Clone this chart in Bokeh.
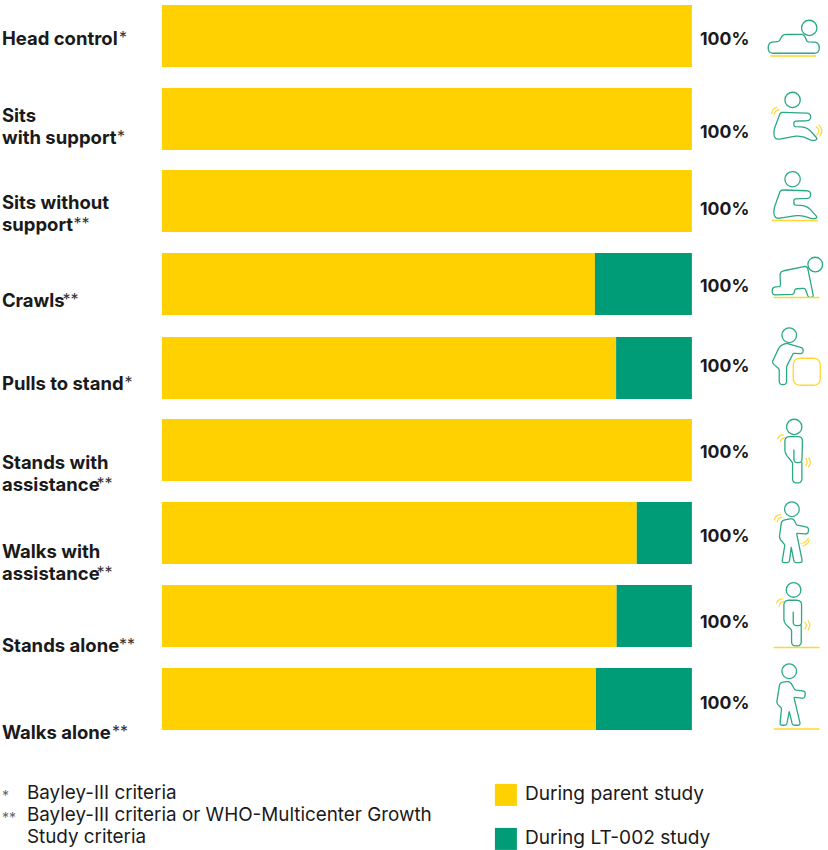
from bokeh.plotting import figure
from bokeh.models import Range1d
from bokeh.core.properties import value
from bokeh.embed import file_html
from bokeh.resources import INLINE
import math

# ---- data ----
milestones = ["Head control", "Sits with support", "Sits without support", "Crawls",
              "Pulls to stand", "Stands with assistance", "Walks with assistance",
              "Stands alone", "Walks alone"]
parent_study = [100, 100, 100, 81.7, 85.7, 100, 89.6, 85.8, 81.9]
lt002_study = [0, 0, 0, 18.3, 14.3, 0, 10.4, 14.2, 18.1]
total_labels = ["100%"] * 9
footnotes = ["Bayley-III criteria", "Bayley-III criteria or WHO-Multicenter Growth", "Study criteria"]
legend_names = ["During parent study", "During LT-002 study"]

# ---- layout (pixels) ----
W, H = 828, 850
X0, PX = 162, 5.30
SHIFT = 0.6
bar_tops = [5, 88, 170, 253, 337, 419, 502, 585, 668]
BAR_H = 62
label_lines = [
    [("Head control", 38, "*", 119)],
    [("Sits", 115, "", 0), ("with support", 137, "*", 117)],
    [("Sits without", 202, "", 0), ("support", 224, "**", 73.5)],
    [("Crawls", 300, "**", 62.5)],
    [("Pulls to stand", 383, "*", 124.5)],
    [("Stands with", 462, "", 0), ("assistance", 484, "**", 96.5)],
    [("Walks with", 551, "", 0), ("assistance", 573, "**", 96.5)],
    [("Stands alone", 645, "**", 119)],
    [("Walks alone", 732, "**", 112)],
]
total_y = [38, 131, 208, 285, 365, 451, 535, 621, 702]
YELLOW, GREEN, INK = "#FFD100", "#009B77", "#1A1A1A"
ICON_G, ICON_Y = "#2BA884", "#FFD633"
FONT = "Inter"

p = figure(width=W, height=H, output_backend="svg", toolbar_location=None,
           x_range=Range1d((-X0 + SHIFT) / PX, (W - X0 + SHIFT) / PX), y_range=Range1d(H + SHIFT, SHIFT),
           min_border=0, outline_line_color=None)
p.styles = {"position": "absolute", "left": "0px", "top": "0px"}
p.axis.visible = False
p.grid.visible = False

tops = bar_tops
bots = [t + BAR_H for t in tops]
p.quad(left=[0] * 9, right=parent_study, top=tops, bottom=bots, fill_color=YELLOW, line_color=None)
p.quad(left=parent_study, right=[a + b for a, b in zip(parent_study, lt002_study)], top=tops, bottom=bots,
       fill_color=GREEN, line_color=None)


def sx(px):
    return (px - X0) / PX


def txt(px, py, s, size, color=INK, style="normal", font=FONT):
    p.text(x=[sx(px)], y=[py], text=[s], text_font=value(font), text_font_size=f"{size}px",
           text_font_style=style, text_color=color, text_baseline="middle", text_align="left")


for lines in label_lines:
    for s, y, star, sxp in lines:
        txt(2, y, s, 18.5, style="bold")
        if star:
            txt(sxp, y - 1, star, 16, color="#333333")
for s, y in zip(total_labels, total_y):
    txt(700, y + 0.8, s, 17.7, style="bold")

txt(2, 795.5, "*", 14, color="#666666")
txt(2, 817.5, "**", 14, color="#666666")
for s, y in zip(footnotes, [793, 815, 837]):
    txt(27, y, s, 18.85)
for s, y, c in zip(legend_names, [793, 837], [YELLOW, GREEN]):
    p.quad(left=[sx(495)], right=[sx(517)], top=[y - 9], bottom=[y + 13], fill_color=c, line_color=None)
    txt(525, y, s, 19.1)


# ---- pictograms, traced in zoomed-crop units (3x) ----
def rounded(pts, closed=True):
    """pts: (x, y, corner radius). Corners are replaced by quadratic curves."""
    n = len(pts)
    out = []
    for i in range(n):
        x, y, r = pts[i]
        if not closed and i in (0, n - 1):
            out.append((x, y))
            continue
        ax, ay, _ = pts[(i - 1) % n]
        bx, by, _ = pts[(i + 1) % n]
        la, lb = math.hypot(ax - x, ay - y), math.hypot(bx - x, by - y)
        ca, cb = min(r, la / 2), min(r, lb / 2)
        s = (x + (ax - x) * ca / la, y + (ay - y) * ca / la)
        e = (x + (bx - x) * cb / lb, y + (by - y) * cb / lb)
        for k in range(9):
            t = k / 8
            out.append(((1 - t) ** 2 * s[0] + 2 * t * (1 - t) * x + t * t * e[0],
                        (1 - t) ** 2 * s[1] + 2 * t * (1 - t) * y + t * t * e[1]))
    if closed:
        out.append(out[0])
    return out


def path(pts, ox, oy, color=ICON_G, closed=True, w=1.3):
    pts = rounded(pts, closed)
    p.line([sx(ox + a / 3) for a, b in pts], [oy + b / 3 for a, b in pts],
           line_color=color, line_width=w, line_join="round", line_cap="round")


def head(cx, cy, r, ox, oy):
    p.circle(x=[sx(ox + cx / 3)], y=[oy + cy / 3], radius=r / 3 / PX, fill_color=None,
             line_color=ICON_G, line_width=1.3)


def floor(x0, x1, y, ox, oy):
    path([(x0, y, 0), (x1, y, 0)], ox, oy, ICON_Y, closed=False, w=1.5)


def arc(pts, ox, oy):
    path([(a, b, 12) for a, b in pts], ox, oy, ICON_Y, closed=False, w=1.2)


# 1 head control
ox, oy = 690, 0
head(358, 84, 23, ox, oy)
path([(235, 160, 16), (235, 127, 16), (268, 125, 8), (278, 104, 10), (342, 103, 10), (352, 126, 5),
      (388, 127, 16), (388, 160, 16)], ox, oy)
floor(243, 377, 168, ox, oy)
# 2 sits with support
head(308, 300, 23, ox, oy)
path([(272, 337, 8), (362, 340, 12), (362, 362, 12), (312, 364, 6), (312, 380, 6), (352, 382, 18),
      (384, 418, 9), (368, 423, 8), (330, 406, 22), (256, 420, 14), (250, 395, 18)], ox, oy)
arc([(245, 341), (249, 328), (260, 322)], ox, oy)
arc([(253, 343), (256, 334), (267, 329)], ox, oy)
arc([(379, 380), (389, 392), (381, 405)], ox, oy)
arc([(388, 376), (398, 392), (390, 408)], ox, oy)
# 3 sits without support
head(308, 538, 23, ox, oy)
path([(272, 570, 8), (362, 573, 12), (362, 595, 12), (312, 597, 6), (312, 615, 6), (352, 618, 18),
      (384, 654, 9), (368, 657, 8), (330, 645, 22), (256, 657, 14), (250, 632, 18)], ox, oy)
floor(248, 382, 662, ox, oy)
# 4 crawls
ox, oy = 690, 240
head(376, 74, 22, ox, oy)
path([(270, 95, 12), (352, 78, 10), (371, 171, 7), (356, 173, 6), (345, 145, 6), (315, 147, 6), (312, 163, 6),
      (247, 165, 10), (247, 142, 10), (272, 140, 6)], ox, oy)
floor(253, 387, 173, ox, oy)
# 5 pulls to stand
head(298, 286, 22, ox, oy)
path([(270, 318, 10), (290, 310, 6), (341, 325, 9), (338, 342, 9), (310, 340, 4), (290, 380, 4), (290, 434, 11),
      (268, 434, 11), (268, 388, 4), (246, 368, 8)], ox, oy)
path([(310, 355, 22), (391, 355, 22), (391, 436, 22), (310, 436, 22)], ox, oy, ICON_Y)
# 6 stands with assistance
head(313, 561, 23, ox, oy)
path([(312, 630, 0), (312, 668, 11), (336, 668, 11), (338, 590, 15), (285, 590, 15), (285, 640, 12),
      (308, 668, 4), (308, 729, 13), (336, 729, 13), (336, 668, 0)], ox, oy, closed=False)
arc([(263, 597), (268, 588), (280, 584)], ox, oy)
arc([(271, 605), (275, 597), (285, 593)], ox, oy)
arc([(348, 655), (352, 666), (348, 678)], ox, oy)
arc([(356, 654), (363, 666), (356, 681)], ox, oy)
# 7 walks with assistance
ox, oy = 690, 490
head(306, 58, 22, ox, oy)
path([(275, 92, 10), (310, 85, 10), (320, 105, 3), (357, 113, 9), (354, 133, 9), (320, 130, 3), (338, 218, 9),
      (313, 218, 7), (304, 172, 1), (298, 218, 7), (276, 218, 7), (285, 165, 4), (268, 145, 8)], ox, oy)
arc([(253, 90), (258, 78), (272, 74)], ox, oy)
arc([(262, 96), (265, 86), (276, 82)], ox, oy)
arc([(333, 160), (348, 157), (355, 145)], ox, oy)
arc([(340, 168), (354, 160), (358, 150)], ox, oy)
# 8 stands alone
head(311, 300, 22, ox, oy)
path([(310, 367, 0), (310, 407, 11), (335, 407, 11), (335, 331, 15), (282, 331, 15), (282, 398, 12),
      (305, 420, 4), (305, 468, 13), (334, 468, 13), (334, 405, 0)], ox, oy, closed=False)
arc([(260, 340), (265, 330), (278, 326)], ox, oy)
arc([(268, 348), (272, 338), (282, 335)], ox, oy)
arc([(345, 397), (351, 406), (345, 417)], ox, oy)
arc([(355, 393), (361, 406), (355, 420)], ox, oy)
floor(253, 387, 473, ox, oy)
# 9 walks alone
head(298, 544, 22, ox, oy)
path([(270, 578, 10), (300, 574, 10), (315, 600, 3), (347, 604, 9), (344, 626, 9), (312, 622, 3), (332, 706, 9),
      (308, 706, 7), (298, 665, 1), (290, 706, 7), (270, 706, 7), (275, 655, 4), (260, 640, 8)], ox, oy)
floor(253, 387, 717, ox, oy)

open("out.html", "w").write(file_html(p, INLINE))
